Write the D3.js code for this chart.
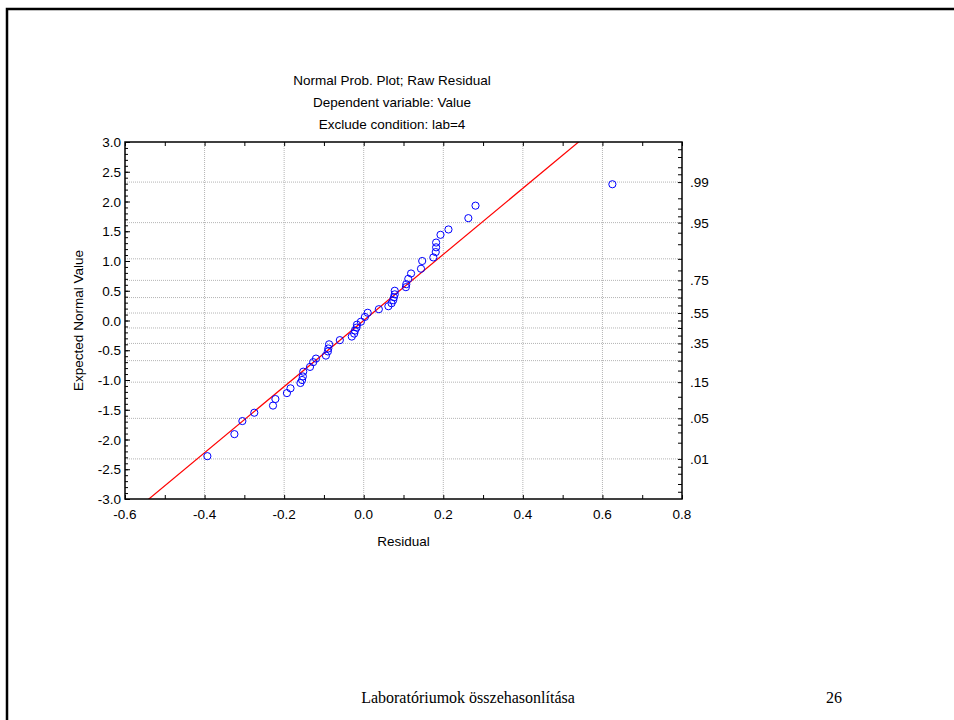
<!DOCTYPE html>
<html>
<head>
<meta charset="utf-8">
<script src="https://cdn.jsdelivr.net/npm/d3@7"></script>
<style>
  body { margin: 0; background: #fff; }
  svg text { font-family: "Liberation Sans", Arial, sans-serif; }
</style>
</head>
<body>
<div id="chart"></div>
<script>
// residuals and their expected normal values
const residuals = [-0.393, -0.325, -0.305, -0.275, -0.228, -0.222, -0.193, -0.184, -0.159, -0.155,
  -0.153, -0.152, -0.135, -0.127, -0.120, -0.095, -0.090, -0.089, -0.087, -0.060,
  -0.030, -0.024, -0.022, -0.018, -0.017, -0.007, 0.003, 0.010, 0.038, 0.062,
  0.070, 0.074, 0.076, 0.078, 0.078, 0.106, 0.107, 0.112, 0.119, 0.144,
  0.147, 0.175, 0.181, 0.182, 0.182, 0.193, 0.213, 0.263, 0.281, 0.625];
const expected = [-2.28, -1.91, -1.69, -1.55, -1.43, -1.32, -1.22, -1.14, -1.05, -1.00,
  -0.94, -0.86, -0.78, -0.70, -0.64, -0.59, -0.52, -0.47, -0.40, -0.33,
  -0.27, -0.22, -0.17, -0.12, -0.07, -0.02, 0.06, 0.13, 0.19, 0.24,
  0.29, 0.34, 0.39, 0.44, 0.50, 0.56, 0.61, 0.70, 0.79, 0.87,
  1.00, 1.06, 1.15, 1.23, 1.31, 1.44, 1.53, 1.72, 1.93, 2.29];

// fitted normal line (mean, sd of residuals)
const fitMean = 0.0;
const fitSd = 0.18;

const xTicks = [-0.6, -0.4, -0.2, 0.0, 0.2, 0.4, 0.6, 0.8];
const yTicks = [3.0, 2.5, 2.0, 1.5, 1.0, 0.5, 0.0, -0.5, -1.0, -1.5, -2.0, -2.5, -3.0];
const probGrid = [0.01, 0.05, 0.15, 0.25, 0.35, 0.45, 0.55, 0.65, 0.75, 0.85, 0.95, 0.99];
const probLabels = [".99", ".95", ".75", ".55", ".35", ".15", ".05", ".01"];
const probMinor = [0.002, 0.003, 0.005, 0.007, 0.01, 0.02, 0.03, 0.04, 0.05, 0.07, 0.1,
  0.15, 0.2, 0.25, 0.3, 0.35, 0.4, 0.45, 0.5, 0.55, 0.6, 0.65, 0.7, 0.75, 0.8, 0.85, 0.9,
  0.93, 0.95, 0.96, 0.97, 0.98, 0.99, 0.993, 0.995, 0.997, 0.998];

const titleLines = ["Normal Prob. Plot; Raw Residual", "Dependent variable: Value", "Exclude condition: lab=4"];
const footerText = "Laboratóriumok összehasonlítása";
const pageNo = "26";

// inverse normal cdf (Acklam)
function qnorm(p) {
  const a = [-3.969683028665376e+01, 2.209460984245205e+02, -2.759285104469687e+02, 1.383577518672690e+02, -3.066479806614716e+01, 2.506628277459239e+00];
  const b = [-5.447609879822406e+01, 1.615858368580409e+02, -1.556989798598866e+02, 6.680131188771972e+01, -1.328068155288572e+01];
  const c = [-7.784894002430293e-03, -3.223964580411365e-01, -2.400758277161838e+00, -2.549732539343734e+00, 4.374664141464968e+00, 2.938163982698783e+00];
  const d = [7.784695709041462e-03, 3.224671290700398e-01, 2.445134137142996e+00, 3.754408661907416e+00];
  const pl = 0.02425;
  let q, r;
  if (p < pl) {
    q = Math.sqrt(-2 * Math.log(p));
    return (((((c[0]*q+c[1])*q+c[2])*q+c[3])*q+c[4])*q+c[5]) / ((((d[0]*q+d[1])*q+d[2])*q+d[3])*q+1);
  } else if (p <= 1 - pl) {
    q = p - 0.5; r = q * q;
    return (((((a[0]*r+a[1])*r+a[2])*r+a[3])*r+a[4])*r+a[5])*q / (((((b[0]*r+b[1])*r+b[2])*r+b[3])*r+b[4])*r+1);
  }
  q = Math.sqrt(-2 * Math.log(1 - p));
  return -(((((c[0]*q+c[1])*q+c[2])*q+c[3])*q+c[4])*q+c[5]) / ((((d[0]*q+d[1])*q+d[2])*q+d[3])*q+1);
}

const width = 954, height = 720;
const pLeft = 125, pRight = 682, pTop = 142, pBottom = 499;
const fs = "13.5px";

const svg = d3.select("#chart").append("svg")
  .attr("width", width)
  .attr("height", height);

// page frame
svg.append("path")
  .attr("d", `M7,${height} L7,9 L${width},9`)
  .attr("fill", "none")
  .attr("stroke", "#000")
  .attr("stroke-width", 2.5);

const x = d3.scaleLinear().domain([-0.6, 0.8]).range([pLeft, pRight]);
const y = d3.scaleLinear().domain([-3, 3]).range([pBottom, pTop]);

// titles
svg.selectAll(".title")
  .data(titleLines)
  .join("text")
  .attr("class", "title")
  .attr("x", 392)
  .attr("y", (d, i) => 85 + i * 22)
  .attr("text-anchor", "middle")
  .attr("font-size", fs)
  .text(d => d);

// grid
const grid = svg.append("g");
grid.selectAll(".vgrid")
  .data(xTicks.slice(1, -1))
  .join("line")
  .attr("x1", d => x(d)).attr("x2", d => x(d))
  .attr("y1", pTop).attr("y2", pBottom)
  .attr("stroke", "#b4b4b4")
  .attr("stroke-dasharray", "1,1");
grid.selectAll(".hgrid")
  .data(probGrid)
  .join("line")
  .attr("x1", pLeft).attr("x2", pRight)
  .attr("y1", d => y(qnorm(d))).attr("y2", d => y(qnorm(d)))
  .attr("stroke", "#b4b4b4")
  .attr("stroke-dasharray", "1,1");

// axes: ticks pointing inward
const xMinor = d3.range(-6, 9).map(d => d / 10);
const yMinor = d3.range(-30, 31).map(d => d / 10);

svg.append("g")
  .attr("transform", `translate(0,${pBottom})`)
  .call(d3.axisTop(x).tickValues(xMinor).tickSize(4).tickFormat(""))
  .call(g => g.select(".domain").remove());
svg.append("g")
  .attr("transform", `translate(0,${pTop})`)
  .call(d3.axisBottom(x).tickValues(xMinor).tickSize(4).tickFormat(""))
  .call(g => g.select(".domain").remove());
svg.append("g")
  .attr("transform", `translate(${pLeft},0)`)
  .call(d3.axisRight(y).tickValues(yMinor).tickSize(3).tickFormat(""))
  .call(g => g.select(".domain").remove());
svg.append("g")
  .attr("transform", `translate(${pLeft},0)`)
  .call(d3.axisRight(y).tickValues(yTicks).tickSize(5).tickFormat(""))
  .call(g => g.select(".domain").remove());
svg.append("g")
  .attr("transform", `translate(${pRight},0)`)
  .call(d3.axisLeft(y).tickValues(probMinor.map(qnorm)).tickSize(4).tickFormat(""))
  .call(g => g.select(".domain").remove());

// tick labels
svg.selectAll(".xlab")
  .data(xTicks)
  .join("text")
  .attr("x", d => x(d))
  .attr("y", pBottom + 20)
  .attr("text-anchor", "middle")
  .attr("font-size", fs)
  .text(d => d3.format(".1f")(d).replace("−", "-"));
svg.selectAll(".ylab")
  .data(yTicks)
  .join("text")
  .attr("x", pLeft - 4)
  .attr("y", d => y(d) + 5)
  .attr("text-anchor", "end")
  .attr("font-size", fs)
  .text(d => d3.format(".1f")(d).replace("−", "-"));
svg.selectAll(".plab")
  .data(probLabels)
  .join("text")
  .attr("x", pRight + 8)
  .attr("y", d => y(qnorm(+d)) + 5)
  .attr("font-size", fs)
  .text(d => d);

// axis titles
svg.append("text")
  .attr("x", (pLeft + pRight) / 2)
  .attr("y", 546)
  .attr("text-anchor", "middle")
  .attr("font-size", fs)
  .text("Residual");
svg.append("text")
  .attr("transform", `translate(83,${(pTop + pBottom) / 2}) rotate(-90)`)
  .attr("text-anchor", "middle")
  .attr("font-size", fs)
  .text("Expected Normal Value");

// clip
svg.append("clipPath").attr("id", "clip")
  .append("rect")
  .attr("x", pLeft).attr("y", pTop)
  .attr("width", pRight - pLeft).attr("height", pBottom - pTop);

// fitted line
svg.append("line")
  .attr("clip-path", "url(#clip)")
  .attr("x1", x(fitMean + fitSd * -3.5)).attr("y1", y(-3.5))
  .attr("x2", x(fitMean + fitSd * 3.5)).attr("y2", y(3.5))
  .attr("stroke", "#ff0000")
  .attr("stroke-width", 1.2);

// points
svg.append("g")
  .selectAll("circle")
  .data(residuals.map((r, i) => [r, expected[i]]))
  .join("circle")
  .attr("cx", d => x(d[0]))
  .attr("cy", d => y(d[1]))
  .attr("r", 3.6)
  .attr("fill", "none")
  .attr("stroke", "#0000ff")
  .attr("stroke-width", 1);

// plot frame
svg.append("rect")
  .attr("x", pLeft).attr("y", pTop)
  .attr("width", pRight - pLeft).attr("height", pBottom - pTop)
  .attr("fill", "none")
  .attr("stroke", "#000")
  .attr("stroke-width", 1.5);

// footer
svg.append("text")
  .attr("x", 468)
  .attr("y", 703)
  .attr("text-anchor", "middle")
  .style("font-family", "'Liberation Serif', 'Times New Roman', serif")
  .attr("font-size", "16px")
  .text(footerText);
svg.append("text")
  .attr("x", 834)
  .attr("y", 703)
  .attr("text-anchor", "middle")
  .style("font-family", "'Liberation Serif', 'Times New Roman', serif")
  .attr("font-size", "16px")
  .text(pageNo);
</script>
</body>
</html>
